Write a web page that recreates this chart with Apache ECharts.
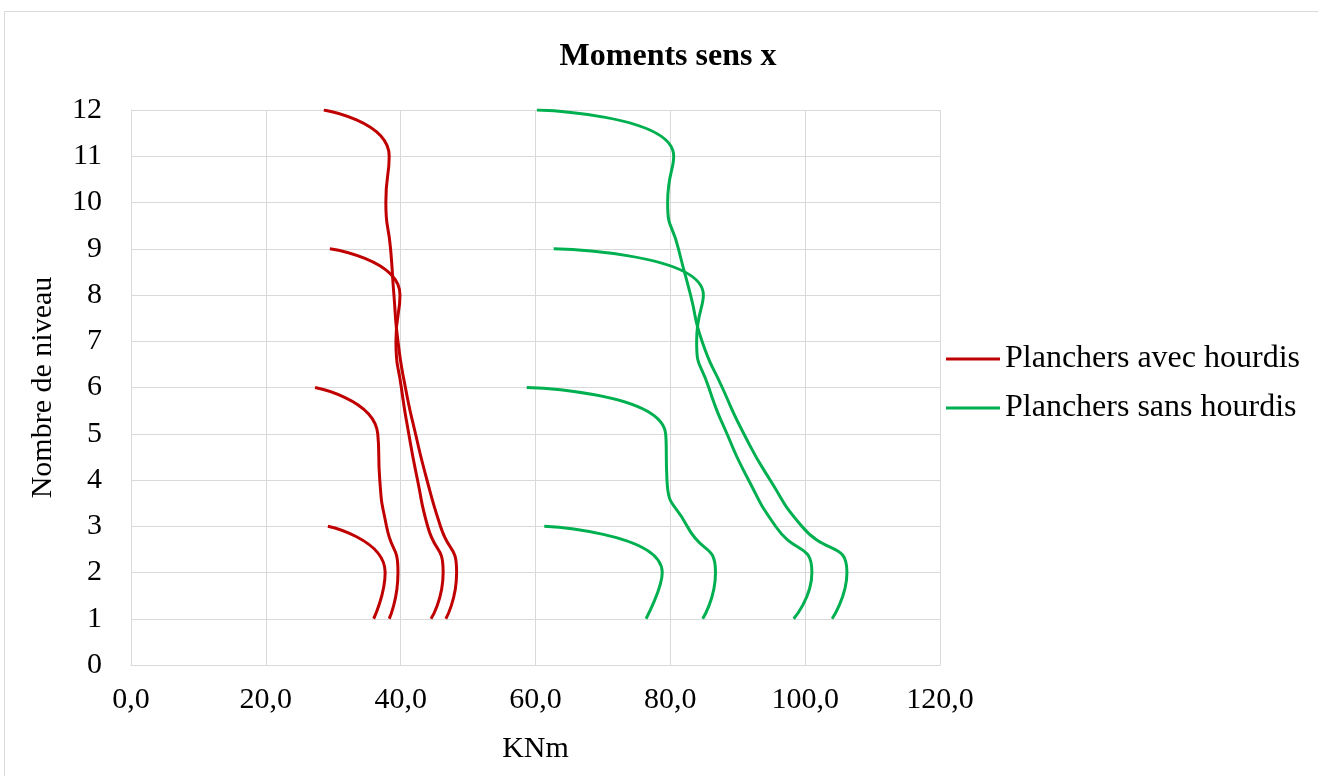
<!DOCTYPE html>
<html>
<head>
<meta charset="utf-8">
<script src="https://cdn.jsdelivr.net/npm/echarts@6/dist/echarts.min.js"></script>
<style>
html,body{margin:0;padding:0;background:#fff;}
#c{width:1318px;height:776px;}
</style>
</head>
<body>
<div id="c"></div>
<script>
// Levels (y values)
var levels3 = [1, 2, 3];
var levels6 = [1, 2, 3, 4, 5, 6];
var levels9 = [1, 2, 3, 4, 5, 6, 7, 8, 9];
var levels12 = [1, 2, 3, 4, 5, 6, 7, 8, 9, 10, 11, 12];

// Planchers avec hourdis (KNm)
var avec3 = [36.0, 37.7, 29.2];
var avec6 = [38.3, 39.6, 37.9, 36.9, 36.6, 27.3];
var avec9 = [44.5, 46.3, 44.0, 42.5, 41.2, 40.1, 39.3, 39.9, 29.5];
var avec12 = [46.7, 48.3, 45.9, 43.9, 42.2, 40.7, 39.6, 39.0, 38.5, 37.8, 38.3, 28.6];

// Planchers sans hourdis (KNm)
var sans3 = [76.4, 78.8, 61.3];
var sans6 = [84.8, 86.7, 82.5, 79.5, 79.3, 58.7];
var sans9 = [98.3, 101.0, 95.6, 91.6, 88.4, 85.7, 83.9, 84.9, 62.7];
var sans12 = [104.0, 106.2, 99.5, 94.8, 90.9, 87.7, 84.7, 83.0, 81.2, 79.6, 80.5, 60.2];

var xTicks = [0, 20, 40, 60, 80, 100, 120];
var yTicks = [0, 1, 2, 3, 4, 5, 6, 7, 8, 9, 10, 11, 12];

var nameAvec = 'Planchers avec hourdis';
var nameSans = 'Planchers sans hourdis';
var FONT = 'Liberation Serif';

function pairs(xs, ys) {
  return xs.map(function (x, i) { return [x, ys[i]]; });
}
function mk(name, color, xs, ys) {
  return {
    name: name, type: 'line', smooth: 0.6, symbol: 'none',
    data: pairs(xs, ys),
    lineStyle: { color: color, width: 3 },
    itemStyle: { color: color }
  };
}

var RED = '#C00000', GREEN = '#00B050';
var series = [
  mk(nameAvec, RED, avec3, levels3),
  mk(nameAvec, RED, avec6, levels6),
  mk(nameAvec, RED, avec9, levels9),
  mk(nameAvec, RED, avec12, levels12),
  mk(nameSans, GREEN, sans3, levels3),
  mk(nameSans, GREEN, sans6, levels6),
  mk(nameSans, GREEN, sans9, levels9),
  mk(nameSans, GREEN, sans12, levels12)
];

var chart = echarts.init(document.getElementById('c'), null, { renderer: 'canvas' });
chart.setOption({
  animation: false,
  backgroundColor: '#fff',
  textStyle: { fontFamily: FONT, color: '#000' },
  title: {
    text: 'Moments sens x', left: 663, top: 36, textAlign: 'center',
    textStyle: { fontFamily: FONT, fontWeight: 'bold', fontSize: 32, color: '#000' }
  },
  graphic: [{
    type: 'rect', shape: { x: 4.5, y: 11.5, width: 1330, height: 800 },
    style: { fill: null, stroke: '#d9d9d9', lineWidth: 1 }, silent: true
  }],
  legend: {
    data: [
      { name: nameAvec, icon: 'rect', itemStyle: { color: RED } },
      { name: nameSans, icon: 'rect', itemStyle: { color: GREEN } }
    ],
    orient: 'vertical', left: 946, top: 343, padding: 0,
    itemWidth: 54, itemHeight: 3, itemGap: 17,
    textStyle: { fontFamily: FONT, fontSize: 32, color: '#000', lineHeight: 31 }
  },
  grid: { left: 131, top: 110, width: 809, height: 555, containLabel: false },
  xAxis: {
    type: 'value', min: xTicks[0], max: xTicks[xTicks.length - 1], interval: 20,
    name: 'KNm', nameLocation: 'middle', nameGap: 69,
    nameTextStyle: { fontFamily: FONT, fontSize: 30, color: '#000' },
    axisLine: { show: true, lineStyle: { color: '#d9d9d9', width: 1 } },
    axisTick: { show: false },
    axisLabel: {
      fontFamily: FONT, fontSize: 30, color: '#000', margin: 20,
      formatter: function (v) { return v.toFixed(1).replace('.', ','); }
    },
    splitLine: { show: true, lineStyle: { color: '#d9d9d9', width: 1 } }
  },
  yAxis: {
    type: 'value', min: yTicks[0], max: yTicks[yTicks.length - 1], interval: 1,
    name: 'Nombre de niveau', nameLocation: 'middle', nameGap: 73,
    nameTextStyle: { fontFamily: FONT, fontSize: 30, color: '#000' },
    axisLine: { show: true, lineStyle: { color: '#d9d9d9', width: 1 } },
    axisTick: { show: false },
    axisLabel: { fontFamily: FONT, fontSize: 30, color: '#000', margin: 29 },
    splitLine: { show: true, lineStyle: { color: '#d9d9d9', width: 1 } }
  },
  series: series
});
</script>
</body>
</html>
